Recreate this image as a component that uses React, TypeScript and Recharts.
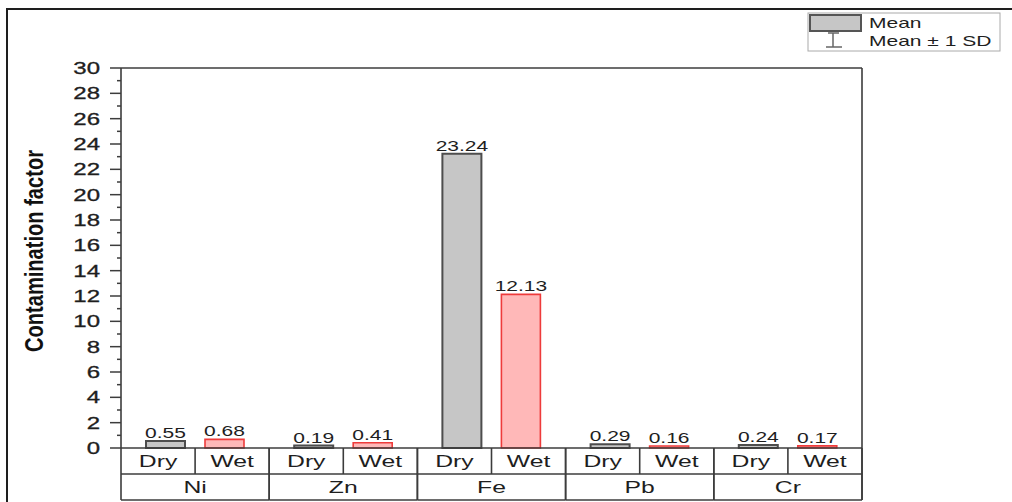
import { BarChart, Bar, XAxis, YAxis, LabelList, Legend } from "recharts";

const metals = ["Ni", "Zn", "Fe", "Pb", "Cr"];
const dryValues = [0.55, 0.19, 23.24, 0.29, 0.24];
const wetValues = [0.68, 0.41, 12.13, 0.16, 0.17];
const seasonLabels = ["Dry", "Wet"];
const yTicks = [
  0, 1, 2, 3, 4, 5, 6, 7, 8, 9, 10, 11, 12, 13, 14, 15, 16, 17, 18, 19, 20,
  21, 22, 23, 24, 25, 26, 27, 28, 29, 30,
];
const yLabels = [0, 2, 4, 6, 8, 10, 12, 14, 16, 18, 20, 22, 24, 26, 28, 30];

const data = metals.map((metal, i) => ({
  metal,
  dry: dryValues[i],
  wet: wetValues[i],
}));

// layout (px) - the source image is stretched ~1.5x horizontally, text too
const W = 1012;
const H = 502;
const LEFT = 121;
const TOP = 68;
const RIGHT = 862;
const BOTTOM = 448;
const ROW = 26;
const SX = 1.5;
const FONT = "'Liberation Sans', Arial, sans-serif";
const INK = "#1e1e1e";
const FRAME = "#3c3c3c";

function YTick(props: any) {
  const { y, payload } = props;
  const v = payload.value;
  const major = yLabels.includes(v);
  return (
    <g>
      <line x1={LEFT - (major ? 11 : 4)} x2={LEFT} y1={y} y2={y} stroke={FRAME} strokeWidth={1.5} />
      {major && (
        <text
          transform={`translate(${LEFT - 21},${y + 6}) scale(${SX},1)`}
          textAnchor="end"
          fontSize={16}
          fontFamily={FONT}
          fill={INK}
          stroke={INK}
          strokeWidth={0.3}
        >
          {v}
        </text>
      )}
      {v === 30 && (
        <>
          <line x1={LEFT} x2={RIGHT} y1={y} y2={y} stroke={FRAME} strokeWidth={1.6} />
          <line x1={RIGHT} x2={RIGHT} y1={y} y2={BOTTOM + 2 * ROW} stroke={FRAME} strokeWidth={1.6} />
        </>
      )}
    </g>
  );
}

function XTick(props: any) {
  const { x, payload } = props;
  const band = (RIGHT - LEFT) / metals.length;
  const x0 = x - band / 2;
  const x1 = x + band / 2;
  const y0 = BOTTOM;
  const txt = (cx: number, cy: number, s: string) => (
    <text
      transform={`translate(${cx},${cy}) scale(${SX},1)`}
      textAnchor="middle"
      fontSize={16.5}
      fontFamily={FONT}
      fill={INK}
    >
      {s}
    </text>
  );
  return (
    <g>
      <line x1={x0} x2={x1} y1={y0 + ROW} y2={y0 + ROW} stroke={FRAME} strokeWidth={1.6} />
      <line x1={x0} x2={x1} y1={y0 + 2 * ROW} y2={y0 + 2 * ROW} stroke={FRAME} strokeWidth={1.6} />
      <line x1={x0} x2={x0} y1={y0} y2={y0 + 2 * ROW} stroke={FRAME} strokeWidth={1.6} />
      <line x1={x1} x2={x1} y1={y0} y2={y0 + 2 * ROW} stroke={FRAME} strokeWidth={1.6} />
      <line x1={x} x2={x} y1={y0} y2={y0 + ROW} stroke={FRAME} strokeWidth={1.6} />
      {txt(x - band / 4, y0 + 19, seasonLabels[0])}
      {txt(x + band / 4, y0 + 19, seasonLabels[1])}
      {txt(x, y0 + 45, payload.value)}
    </g>
  );
}

function BarLabel(props: any) {
  const { x, y, width, value } = props;
  return (
    <text
      transform={`translate(${x + width / 2},${y - 3}) scale(${SX},1)`}
      textAnchor="middle"
      fontSize={14}
      fontFamily={FONT}
      fill={INK}
    >
      {Number(value).toFixed(2)}
    </text>
  );
}

function YLabel() {
  return (
    <g>
      <text
        transform={`translate(43,251) scale(${SX},1) rotate(-90)`}
        textAnchor="middle"
        fontSize={17}
        fontWeight="bold"
        fontFamily="'Liberation Sans Narrow', 'Liberation Sans', Arial, sans-serif"
        fill="#111"
        textLength={202}
        lengthAdjust="spacingAndGlyphs"
      >
        Contamination factor
      </text>
    </g>
  );
}

function LegendBox() {
  return (
    <svg width={W} height={60} style={{ display: "block" }}>
      <rect x={808} y={13} width={192} height={38} fill="#fff" stroke="#aaa" strokeWidth={1} />
      <rect x={810} y={15} width={51} height={16} fill="#c6c6c6" stroke="#555" strokeWidth={2} />
      <line x1={833} x2={833} y1={33} y2={47} stroke="#666" strokeWidth={1.5} />
      <line x1={828} x2={839} y1={33} y2={33} stroke="#666" strokeWidth={1.5} />
      <line x1={826} x2={842} y1={47} y2={47} stroke="#666" strokeWidth={1.5} />
      <text transform={`translate(869,28) scale(${SX},1)`} fontSize={14} fontFamily={FONT} fill={INK}>
        Mean
      </text>
      <text transform={`translate(869,46) scale(${SX},1)`} fontSize={14} fontFamily={FONT} fill={INK}>
        Mean ± 1 SD
      </text>
    </svg>
  );
}

export default function App() {
  return (
    <div style={{ position: "absolute", left: 0, top: 0, width: W, height: H, background: "#fff", overflow: "hidden" }}>
      <div
        style={{
          position: "absolute",
          left: 6,
          top: 8,
          width: W,
          height: H,
          borderLeft: `2px solid ${INK}`,
          borderTop: `2px solid ${INK}`,
        }}
      />
      <div style={{ position: "absolute", left: 0, top: 0 }}>
        <BarChart
          width={W}
          height={H}
          data={data}
          margin={{ top: TOP, right: W - RIGHT, bottom: 0, left: 0 }}
          barGap={20}
        >
          <XAxis
            dataKey="metal"
            height={H - BOTTOM}
            axisLine={{ stroke: FRAME, strokeWidth: 1.6 }}
            tickLine={false}
            tickSize={0}
            tickMargin={0}
            tick={<XTick />}
            interval={0}
          />
          <YAxis
            width={LEFT}
            domain={[0, 30]}
            ticks={yTicks}
            interval={0}
            axisLine={{ stroke: FRAME, strokeWidth: 1.6 }}
            tickLine={false}
            tickSize={0}
            tickMargin={0}
            tick={<YTick />}
            label={{ content: () => <YLabel /> }}
          />
          <Legend
            layout="horizontal"
            verticalAlign="middle"
            wrapperStyle={{ left: 0, top: 0, width: W, height: 60 }}
            content={() => <LegendBox />}
          />
          <Bar dataKey="dry" fill="#c6c6c6" stroke="#4d4d4d" strokeWidth={2} barSize={39} isAnimationActive={false}>
            <LabelList dataKey="dry" content={<BarLabel />} />
          </Bar>
          <Bar dataKey="wet" fill="#ffb8b8" stroke="#ee3b3b" strokeWidth={1.6} barSize={39} isAnimationActive={false}>
            <LabelList dataKey="wet" content={<BarLabel />} />
          </Bar>
        </BarChart>
      </div>
    </div>
  );
}
